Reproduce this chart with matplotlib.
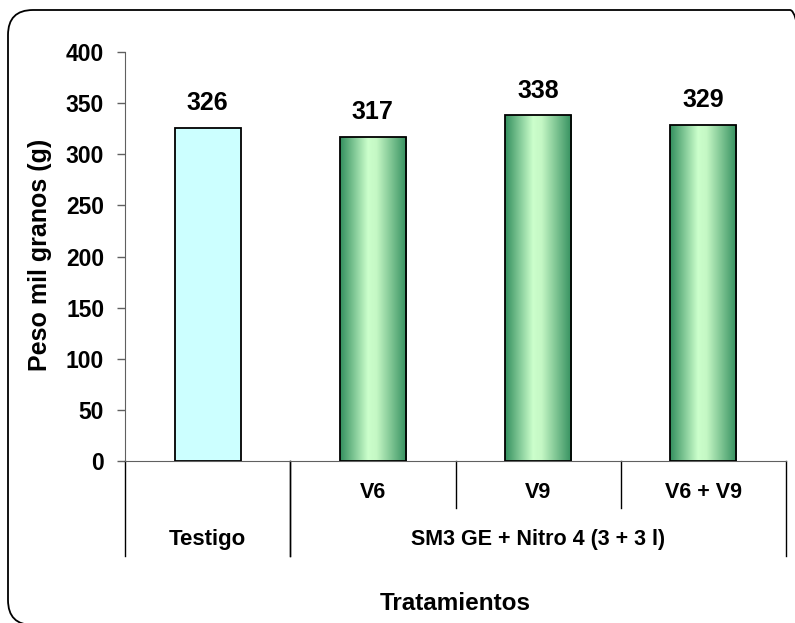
import matplotlib.pyplot as plt
import numpy as np
from matplotlib.colors import LinearSegmentedColormap
from matplotlib.patches import FancyBboxPatch
import matplotlib.transforms as mtransforms

plt.rcParams['font.family'] = ['Liberation Sans', 'DejaVu Sans']
plt.rcParams['font.weight'] = 'bold'

# datos
tratamientos = ['Testigo', 'V6', 'V9', 'V6 + V9']
peso = [326, 317, 338, 329]
grupos = ['Testigo', 'SM3 GE + Nitro 4 (3 + 3 l)']
grupo_desde = [0, 1]
grupo_hasta = [0, 3]
yticks = [0, 50, 100, 150, 200, 250, 300, 350, 400]

W, H = 795, 623
fig = plt.figure(figsize=(W / 100, H / 100), dpi=100)
ax = fig.add_axes([125 / W, 1 - 461 / H, (786 - 125) / W, (461 - 52) / H])

x = np.arange(len(peso))
bars = ax.bar(x, peso, width=0.4, facecolor='#ccffff', edgecolor='black', linewidth=1.3, zorder=3)

# degradado verde para los tratamientos
cmap = LinearSegmentedColormap.from_list('verde', [(0, '#338f5e'), (0.42, '#ccffcc'), (0.55, '#c4f7c4'), (1, '#338f5e')])
grad = np.linspace(0, 1, 256).reshape(1, -1)
for b in bars[1:]:
    b.set_facecolor('none')
    bx, by = b.get_x(), b.get_y()
    bw, bh = b.get_width(), b.get_height()
    im = ax.imshow(grad, extent=[bx, bx + bw, by, by + bh], aspect='auto', cmap=cmap, zorder=2)
    im.set_clip_path(b)

for xi, v in zip(x, peso):
    ax.annotate(str(v), xy=(xi, v), xytext=(0, 9), textcoords='offset points',
                ha='center', va='bottom', fontsize=18, fontweight='bold')

ax.set_xlim(-0.5, len(peso) - 0.5)
ax.set_ylim(0, 400)
ax.set_yticks(yticks)
ax.tick_params(axis='y', direction='out', length=6, width=1, color='#606060', labelsize=16.5, pad=9)
ax.set_xticks([])
for s in ['top', 'right']:
    ax.spines[s].set_visible(False)
ax.spines['left'].set_color('#606060')
ax.spines['bottom'].set_color('#606060')
ax.set_ylabel('Peso mil granos (g)', fontsize=18, fontweight='bold')
ax.yaxis.set_label_coords((40 - 125) / (786 - 125), (461 - 255) / (461 - 52))
ax.yaxis.label.set_va('center')

# eje de categorias en dos niveles
trans = mtransforms.blended_transform_factory(ax.transData, ax.transAxes)
for xi, lab in zip(x[1:], tratamientos[1:]):
    ax.text(xi, -0.076, lab, transform=trans, ha='center', va='center', fontsize=15.5, fontweight='bold')
for g, a, b in zip(grupos, grupo_desde, grupo_hasta):
    fs = 16 if a == b else 15.5
    ax.text((a + b) / 2, -0.191, g, transform=trans, ha='center', va='center', fontsize=fs, fontweight='bold')
    for edge in (a - 0.5, b + 0.5):
        ax.plot([edge, edge], [0, -0.232], transform=trans, color='black', lw=1, clip_on=False)
for edge in (1.5, 2.5):
    ax.plot([edge, edge], [0, -0.115], transform=trans, color='black', lw=1, clip_on=False)

fig.text(0.5 * (125 + 786) / W, 1 - 604 / H, 'Tratamientos', ha='center', va='center', fontsize=17.5, fontweight='bold')

# marco redondeado
marco = FancyBboxPatch((8, -2), 807, H - 10 + 2, boxstyle='round,pad=0,rounding_size=25',
                       transform=None, facecolor='none', edgecolor='black', linewidth=1.3)
fig.patches.append(marco)

fig.savefig('out.png', dpi=100)
